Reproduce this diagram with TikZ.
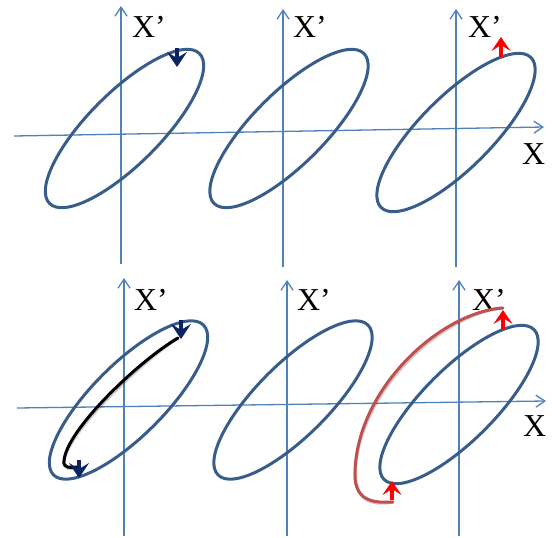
\documentclass[tikz,border=0pt]{standalone}
\usepackage{fontspec}
\setmainfont{Liberation Serif}
\usetikzlibrary{arrows.meta}
\definecolor{ellblue}{RGB}{56,93,138}
\definecolor{axblue}{RGB}{79,129,189}
\definecolor{navyc}{RGB}{10,35,100}
\definecolor{curvered}{RGB}{192,80,77}
\begin{document}
\begin{tikzpicture}[x=1bp,y=-1bp,
  axis/.style={axblue, line width=1.3bp, -{Straight Barb[length=9bp,width=12bp]}},
  ell/.style={ellblue, line width=3bp},
  lbl/.style={font=\fontsize{32}{32}\selectfont, inner sep=0pt, anchor=base west},
  navyarrow/.style={navyc, line width=3.2bp, -{Stealth[length=15bp,width=20bp,inset=6bp]}},
  redarrow/.style={red, line width=3.2bp, -{Stealth[length=14bp,width=19bp,inset=6bp]}},
  shadowline/.style={black, opacity=0.2, line width=3.2bp, shift={(1.5,2)}},
  blackcurve/.style={black, line width=3bp, line cap=round},
  redcurve/.style={curvered, line width=3bp, line cap=round}
]
\useasboundingbox (0,0) rectangle (552,538);

% ---------- top row axes ----------
\coordinate (th0) at (14,136);  \coordinate (th1) at (544,127);
\coordinate (tv1b) at (121,264); \coordinate (tv1t) at (121,6);
\coordinate (tv2b) at (283,267); \coordinate (tv2t) at (283,9);
\coordinate (tv3b) at (456,267); \coordinate (tv3t) at (456,9);
\draw[axis] (th0) -- (th1);
\draw[axis] (tv1b) -- (tv1t);
\draw[axis] (tv2b) -- (tv2t);
\draw[axis] (tv3b) -- (tv3t);

% ---------- bottom row axes ----------
\coordinate (bh0) at (17,408);  \coordinate (bh1) at (546,401);
\coordinate (bv1b) at (124,536); \coordinate (bv1t) at (124,278);
\coordinate (bv2b) at (287,536); \coordinate (bv2t) at (287,280);
\coordinate (bv3b) at (459,536); \coordinate (bv3t) at (459,280);
\draw[axis] (bh0) -- (bh1);
\draw[axis] (bv1b) -- (bv1t);
\draw[axis] (bv2b) -- (bv2t);
\draw[axis] (bv3b) -- (bv3t);

% ---------- ellipses ----------
\coordinate (e1) at (124.5,128.5);
\coordinate (e2) at (289,128.5);
\coordinate (e3) at (456,132.5);
\coordinate (e4) at (128.5,400);
\coordinate (e5) at (293,400);
\coordinate (e6) at (459,404.5);
\foreach \c in {e1,e2,e3,e4,e5,e6}{
  \draw[ell, rotate around={45:(\c)}] (\c) ellipse [x radius=106bp, y radius=36bp];
}

% ---------- labels ----------
\node[lbl] (xp1) at (132,38) {X’};
\node[lbl] (xp2) at (293,38) {X’};
\node[lbl] (xp3) at (468,38) {X’};
\node[lbl] (xt)  at (522,165) {X};
\node[lbl] (xp4) at (134,310) {X’};
\node[lbl] (xp5) at (297,310) {X’};
\node[lbl] (xp6) at (472,310) {X’};
\node[lbl] (xb)  at (523,436) {X};

% ---------- black curve (bottom left) ----------
\coordinate (k0) at (178,338);
\coordinate (k1) at (64,461);
\coordinate (k2) at (77,467);
\draw[shadowline] (k0) .. controls (140,360) and (66,430) .. (k1)
  .. controls (63,468) and (70,468) .. (k2);
\draw[blackcurve] (k0) .. controls (140,360) and (66,430) .. (k1)
  .. controls (63,468) and (70,468) .. (k2);

% ---------- red curve (bottom right) ----------
\coordinate (r0) at (503,308);
\coordinate (r1) at (355,475);
\coordinate (r2) at (393,502);
\draw[shadowline] (r0) .. controls (440,312) and (355,390) .. (r1)
  .. controls (355,502) and (375,503) .. (r2);
\draw[redcurve] (r0) .. controls (440,312) and (355,390) .. (r1)
  .. controls (355,502) and (375,503) .. (r2);

% ---------- navy arrows ----------
\coordinate (na1s) at (177,48);  \coordinate (na1e) at (177,67);
\coordinate (na2s) at (181,320); \coordinate (na2e) at (181,339);
\coordinate (na3s) at (79,460);  \coordinate (na3e) at (79,478);
\draw[navyarrow] (na1s) -- (na1e);
\draw[navyarrow] (na2s) -- (na2e);
\draw[navyarrow] (na3s) -- (na3e);

% ---------- red arrows ----------
\coordinate (ra1s) at (501,57);  \coordinate (ra1e) at (501,37);
\coordinate (ra2s) at (503,329); \coordinate (ra2e) at (503,310);
\coordinate (ra3s) at (392,500); \coordinate (ra3e) at (392,481);
\draw[redarrow] (ra1s) -- (ra1e);
\draw[redarrow] (ra2s) -- (ra2e);
\draw[redarrow] (ra3s) -- (ra3e);
\end{tikzpicture}
\end{document}
